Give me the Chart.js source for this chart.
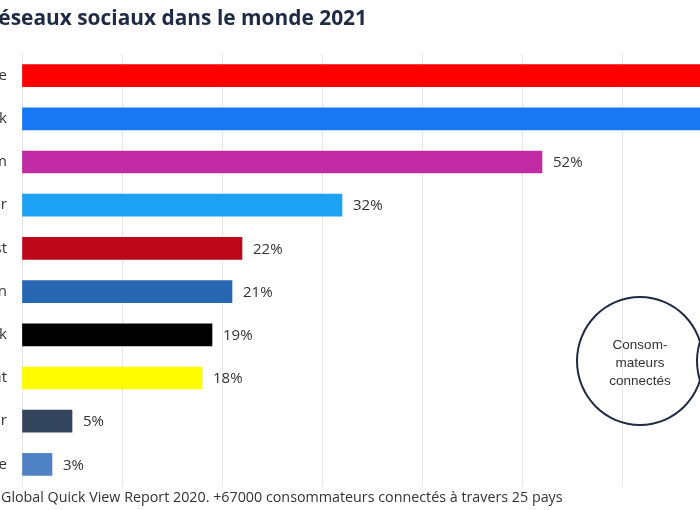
<!DOCTYPE html>
<html>
<head>
<meta charset="utf-8">
<script src="https://cdn.jsdelivr.net/npm/chart.js@4"></script>
<style>
  html, body { margin: 0; padding: 0; background: #fff; }
  body { width: 700px; height: 510px; overflow: hidden; position: relative; font-family: "Open Sans", sans-serif; }
  #wrap { position: absolute; left: -98px; top: 0; width: 1120px; height: 510px; }
  #title { position: absolute; right: 333px; top: 3px; white-space: nowrap; font-weight: 700; font-size: 20.9px; color: #1f2a44; }
  #footer { position: absolute; left: 1px; top: 487px; white-space: nowrap; font-size: 14.3px; color: #333; }
  .circle { position: absolute; border: 2px solid #1f2a44; border-radius: 50%; box-sizing: border-box; }
  .circle span { position: absolute; width: 100%; top: 38px; text-align: center; font-size: 13.5px; line-height: 18px; color: #333; font-family: "Liberation Sans", sans-serif; }
</style>
</head>
<body>
<div id="wrap"><canvas id="bar-chart" width="1120" height="510"></canvas></div>
<div id="title">Les réseaux sociaux dans le monde 2021</div>
<div id="footer">Global Quick View Report 2020. +67000 consommateurs connectés à travers 25 pays</div>
<div class="circle" style="left:576px; top:296px; width:128px; height:130px;"><span>Consom-<br>mateurs<br>connectés</span></div>
<div class="circle" style="left:696px; top:296px; width:128px; height:130px;"></div>
<script>
// network names and share of users (%)
var networks = ['YouTube', 'Facebook', 'Instagram', 'Twitter', 'Pinterest', 'LinkedIn', 'TikTok', 'Snapchat', 'Tumblr', 'Periscope'];
var shares = [74, 72, 52, 32, 22, 21, 19, 18, 5, 3];
var colors = ['#ff0000', '#1877f2', '#c02aa3', '#1da1f2', '#bd081c', '#2867b2', '#000000', '#fffc00', '#34465d', '#4f82c4'];

// value labels at the end of each bar
var valueLabels = {
  id: 'valueLabels',
  afterDatasetsDraw: function(chart) {
    var ctx = chart.ctx;
    var meta = chart.getDatasetMeta(0);
    ctx.save();
    ctx.font = '15px "Open Sans"';
    ctx.fillStyle = '#333';
    ctx.textBaseline = 'middle';
    ctx.textAlign = 'left';
    for (var i = 0; i < meta.data.length; i++) {
      var bar = meta.data[i];
      ctx.fillText(shares[i] + '%', bar.x + 11, bar.y + 1);
    }
    ctx.restore();
  }
};

var chart = new Chart(document.getElementById('bar-chart'), {
  type: 'bar',
  data: {
    labels: networks,
    datasets: [{
      data: shares,
      backgroundColor: colors,
      barThickness: 22
    }]
  },
  options: {
    indexAxis: 'y',
    responsive: false,
    animation: false,
    devicePixelRatio: 1,
    layout: { padding: { top: 54, bottom: 21, right: 0, left: 0 } },
    plugins: {
      legend: { display: false },
      tooltip: { enabled: false }
    },
    scales: {
      x: {
        min: 0,
        max: 100,
        ticks: { display: false, stepSize: 10 },
        grid: { color: '#e6e6e6', drawTicks: false },
        border: { display: false }
      },
      y: {
        afterFit: function(scale) { scale.width = 120; },
        ticks: { color: '#333', font: { family: 'Open Sans', size: 15 }, padding: 15 },
        grid: { display: false, drawTicks: false },
        border: { display: false }
      }
    }
  },
  plugins: [valueLabels]
});
</script>
</body>
</html>
